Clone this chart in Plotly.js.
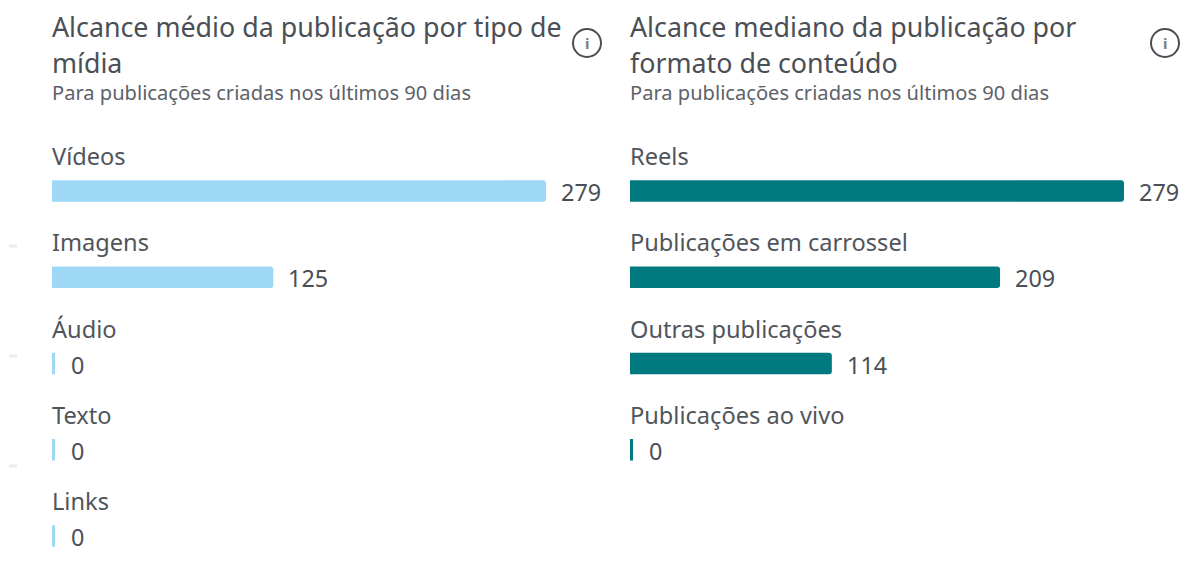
<!DOCTYPE html>
<html><head><meta charset="utf-8">
<script src="https://cdn.plot.ly/plotly-3.0.1.min.js"></script>
<style>html,body{margin:0;padding:0;background:#fff}#c{width:1181px;height:571px}</style>
</head><body><div id="c"></div>
<script>
const W = 1181, H = 571;
const leftCategories = ["Vídeos", "Imagens", "Áudio", "Texto", "Links"];
const leftValues = [279, 125, 0, 0, 0];
const rightCategories = ["Reels", "Publicações em carrossel", "Outras publicações", "Publicações ao vivo"];
const rightValues = [279, 209, 114, 0];
const leftTitle = ["Alcance médio da publicação por tipo de", "mídia"];
const rightTitle = ["Alcance mediano da publicação por", "formato de conteúdo"];
const subtitle = "Para publicações criadas nos últimos 90 dias";
const leftColor = "#9fd8f7", rightColor = "#007a7e";

const FONT = "'Noto Sans', sans-serif";
const TITLE_C = "#4a4f55", LABEL_C = "#50555b", SUB_C = "#5c6269", VAL_C = "#4a4f55";
const TITLE_S = 26.8, LABEL_S = 23.6, SUB_S = 20.1, VAL_S = 23.4;

const px = x => x / W, py = y => 1 - y / H;
const TOP = 100, BOT = 560, STEP = 86.25, C0 = 191;
const yRange = [(BOT - C0) / STEP, (TOP - C0) / STEP];

const annotations = [], shapes = [];
function txt(x, y, text, size, color) {
  annotations.push({xref:"paper", yref:"paper", x:px(x), y:py(y), text, showarrow:false,
    xanchor:"left", yanchor:"middle", align:"left", font:{family:FONT, size, color}});
}
function panel(cats, vals, xa, ya, color) {
  cats.forEach((c, i) => {
    annotations.push({xref:xa, yref:ya, x:0, y:c, text:c, showarrow:false, xanchor:"left", yanchor:"middle",
      yshift:35, xshift:-2, font:{family:FONT, size:LABEL_S, color:LABEL_C}});
    annotations.push({xref:xa, yref:ya, x:vals[i], y:c, text:String(vals[i]), showarrow:false, xanchor:"left", yanchor:"middle",
      yshift:-1, xshift: vals[i] === 0 ? 17 : 13, font:{family:FONT, size:VAL_S, color:VAL_C}});
    if (vals[i] === 0) {
      shapes.push({type:"rect", xref:xa, xsizemode:"pixel", xanchor:0, x0:0, x1:3, yref:ya,
        y0:i - 0.125, y1:i + 0.125, fillcolor:color, line:{width:0}, layer:"above"});
    }
  });
}
panel(leftCategories, leftValues, "x", "y", leftColor);
panel(rightCategories, rightValues, "x2", "y2", rightColor);

txt(50, 27, leftTitle[0], TITLE_S, TITLE_C);
txt(50, 62, leftTitle[1], TITLE_S, TITLE_C);
txt(628, 27, rightTitle[0], TITLE_S, TITLE_C);
txt(628, 62, rightTitle[1], TITLE_S, TITLE_C);
txt(50, 93, subtitle, SUB_S, SUB_C);
txt(628, 93, subtitle, SUB_S, SUB_C);

[587, 1165].forEach(cx => {
  shapes.push({type:"circle", xref:"paper", yref:"paper", x0:px(cx-14), x1:px(cx+14), y0:py(43+14), y1:py(43-14),
    line:{color:"#4a4f55", width:2}, fillcolor:"rgba(0,0,0,0)"});
  annotations.push({xref:"paper", yref:"paper", x:px(cx), y:py(43), text:"<b>i</b>", showarrow:false,
    xanchor:"center", yanchor:"middle", font:{family:FONT, size:15, color:"#777c82"}});
});
[[9,246,17],[9,356,17],[9,466,17]].forEach(([a,y,b]) => {
  shapes.push({type:"rect", xref:"paper", yref:"paper", x0:px(a), x1:px(b), y0:py(y+1.5), y1:py(y-1.5),
    fillcolor:"#ececec", line:{width:0}});
});

const bar = (cats, vals, color, xa, ya) => ({type:"bar", orientation:"h", y:cats, x:vals, xaxis:xa, yaxis:ya,
  width:0.25, marker:{color, cornerradius:3, line:{width:0}}, hoverinfo:"skip", showlegend:false});
const axX = (d) => ({domain:d, range:[0,279], visible:false, fixedrange:true});
const axY = (cats, anchor) => ({domain:[py(BOT), py(TOP)], range:yRange, type:"category", categoryorder:"array",
  categoryarray:cats, visible:false, fixedrange:true, anchor});

Plotly.newPlot("c", [
  bar(leftCategories, leftValues, leftColor, "x", "y"),
  bar(rightCategories, rightValues, rightColor, "x2", "y2")
], {
  width:W, height:H, margin:{l:0,r:0,t:0,b:0}, paper_bgcolor:"#fff", plot_bgcolor:"#fff", showlegend:false,
  xaxis:axX([px(52), px(546)]), yaxis:axY(leftCategories, "x"),
  xaxis2:axX([px(630), px(1124)]), yaxis2:axY(rightCategories, "x2"),
  annotations, shapes
}, {displayModeBar:false, staticPlot:true});
</script></body></html>
